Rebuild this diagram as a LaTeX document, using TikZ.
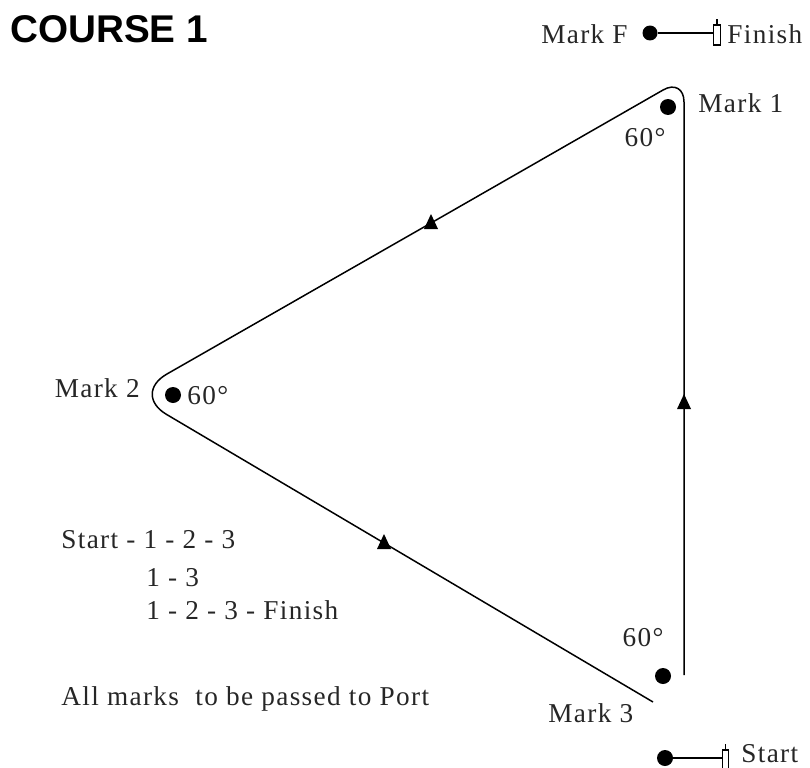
\documentclass[tikz,border=0pt]{standalone}
\usepackage{fontspec}
\setmainfont{Liberation Serif}[LetterSpace=5.0]
\newfontfamily\headfont{Liberation Sans}
\usetikzlibrary{positioning}

\begin{document}
\begin{tikzpicture}[
    x=0.02cm, y=-0.02cm,
    font=\fontsize{15.5pt}{18pt}\selectfont,
    course/.style={line width=0.85pt, draw=black},
    buoy/.style={circle, fill=black, inner sep=0pt, minimum size=3.2mm},
    flagbox/.style={rectangle, draw=black, fill=white, line width=0.6pt,
      inner sep=0pt, minimum width=1.3mm, minimum height=4mm},
    lab/.style={inner sep=0pt, text=black!85}]
  \useasboundingbox (0,0) rectangle (810,767);

  % ---- title ----
  \node[lab, anchor=base west, text=black,
    font=\headfont\bfseries\fontsize{22pt}{24pt}\selectfont] (title) at (10,43) {COURSE 1};

  % ---- course legs (rounded round Mark 2 and Mark 1) ----
  \coordinate (endthree) at (653,702);
  \coordinate (apextwo) at (132,394);
  \coordinate (arrowone) at (431,223);
  \coordinate (apexone) at (684,78);
  \coordinate (endone) at (684,675);
  \coordinate (arrowtwo) at (384,543);
  \coordinate (arrowthree) at (684,403);
  \draw[course, rounded corners=0.8cm] (endthree) -- (apextwo) -- (arrowone);
  \draw[course, rounded corners=0.48cm] (arrowone) -- (apexone) -- (endone);
  \foreach \pt in {arrowone,arrowtwo,arrowthree}
    \fill (\pt) ++(-7,6) -- ++(14,0) -- ++(-7,-15) -- cycle;

  % ---- marks ----
  \node[buoy] (mone) at (668,107) {};
  \node[buoy] (mtwo) at (173,395) {};
  \node[buoy] (mthree) at (663,676) {};
  \node[buoy, minimum size=3mm] (mf) at (650,33) {};
  \node[buoy] (mstart) at (665,758) {};

  % ---- finish and start lines ----
  \node[flagbox] (finflag) at (717,35) {};
  \draw[line width=0.6pt] (finflag.north) -- ++(0,-5);
  \draw[course] (mf) -- (mf -| finflag.west);
  \node[flagbox] (startflag) at (725.5,760) {};
  \draw[line width=0.6pt] (startflag.north) -- ++(0,-5);
  \draw[course] (mstart) -- (mstart -| startflag.west);

  % ---- labels ----
  \node[lab, anchor=east] (lmf) at (628,34) {Mark F};
  \node[lab, anchor=west] (lfin) at (727,34) {Finish};
  \node[lab, anchor=west] (lone) at (698,103) {Mark 1};
  \node[lab] (aone) at (645,138) {60°};
  \node[lab, anchor=east] (ltwo) at (140,388) {Mark 2};
  \node[lab, anchor=west] (atwo) at (187,396) {60°};
  \node[lab] (athree) at (643,638) {60°};
  \node[lab, anchor=west] (lthree) at (548,713) {Mark 3};
  \node[lab, anchor=west] (lstart) at (741,754) {Start};

  % ---- rounds and note ----
  \node[lab, anchor=west] (rone) at (61,540) {Start - 1 - 2 - 3};
  \node[lab, anchor=west] (rtwo) at (146,578) {1 - 3};
  \node[lab, anchor=west] (rthree) at (146,610) {1 - 2 - 3 - Finish};
  \node[lab, anchor=west] (note) at (61,699) {All marks\ \ to be passed to Port};
\end{tikzpicture}
\end{document}
